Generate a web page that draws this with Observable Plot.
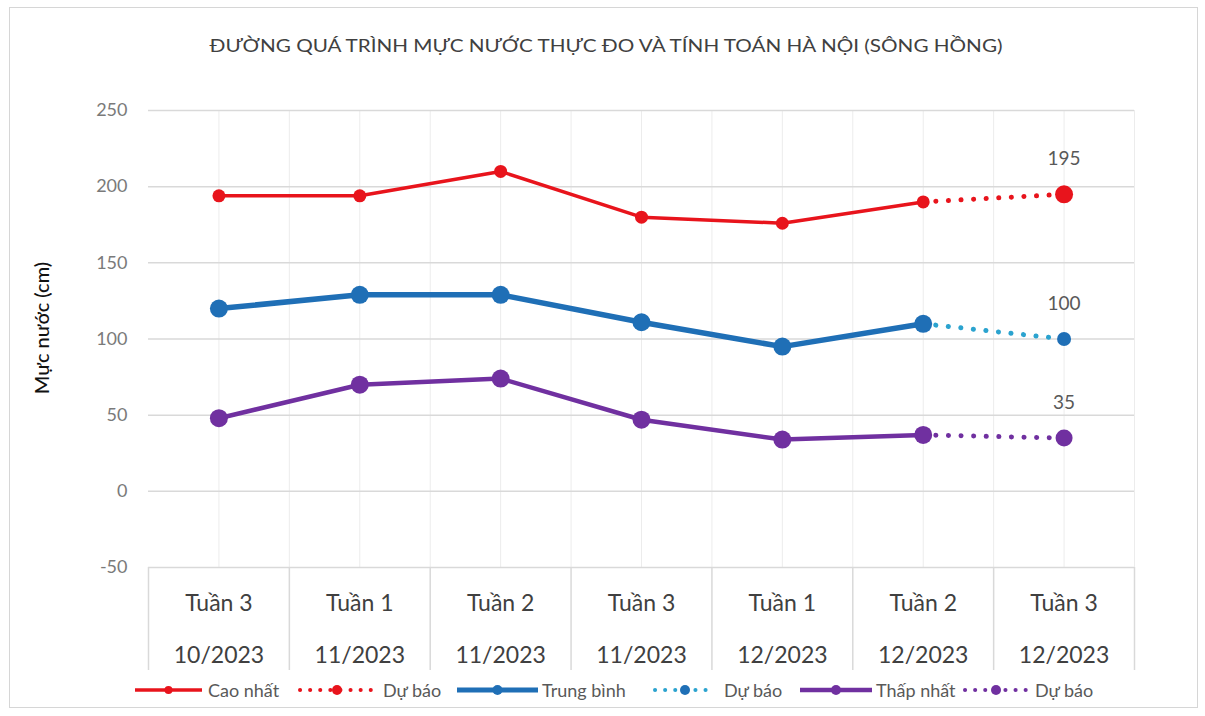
<!DOCTYPE html>
<html><head><meta charset="utf-8">
<script src="https://cdn.jsdelivr.net/npm/d3@7"></script>
<script src="https://cdn.jsdelivr.net/npm/@observablehq/plot@0.6"></script>
<style>
body{margin:0;background:#fff;font-family:Lato,"Open Sans",sans-serif;}
#frame{position:absolute;left:9px;top:7px;width:1189px;height:701px;border:1px solid #d6d6d6;box-sizing:border-box;}
#title{position:absolute;left:0;top:28px;}
#chart{position:absolute;left:0;top:80px;}
.lg{position:absolute;top:680px;height:20px;}
.lt{position:absolute;top:679px;font-size:18px;color:#595959;line-height:22px;white-space:nowrap;}
</style></head>
<body>
<div id="frame"></div>
<svg id="title" width="1205" height="34"><text x="606" y="24" text-anchor="middle" font-family="Lato, sans-serif" font-size="18" fill="#404040" textLength="793" lengthAdjust="spacingAndGlyphs">ĐƯỜNG QUÁ TRÌNH MỰC NƯỚC THỰC ĐO VÀ TÍNH TOÁN HÀ NỘI (SÔNG HỒNG)</text></svg>
<div id="chart"></div>
<div id="legend"></div>
<script>
// ---- data ----
const weeks  = ["Tuần 3","Tuần 1","Tuần 2","Tuần 3","Tuần 1","Tuần 2","Tuần 3"];
const months = ["10/2023","11/2023","11/2023","11/2023","12/2023","12/2023","12/2023"];
const caoNhat   = [194, 194, 210, 180, 176, 190];
const trungBinh = [120, 129, 129, 111, 95, 110];
const thapNhat  = [48, 70, 74, 47, 34, 37];
const caoNhatDuBao   = [190, 195];
const trungBinhDuBao = [110, 100];
const thapNhatDuBao  = [37, 35];
const yTicks = [-50, 0, 50, 100, 150, 200, 250];
const legendNames = ["Cao nhất","Dự báo","Trung bình","Dự báo","Thấp nhất","Dự báo"];

// ---- build tables ----
const obs = arr => arr.map((v, i) => ({i, v}));
const fc = (arr, start) => arr.map((v, k) => ({i: start + k, v}));
const cats = weeks.map((w, i) => ({i, w, m: months[i]}));

const RED = "#e8141c", BLUE = "#1f6fb6", BLUE_DOT = "#2ba3cf", PURPLE = "#7030a0";

const W = 1205, H = 600, mT = 30, mB = 113, mL = 148, mR = 71;
const unitPerPx = (yTicks[yTicks.length-1] - yTicks[0]) / (H - mT - mB);
const tableBottom = yTicks[0] - 103 * unitPerPx;
const halfSteps = d3.range(0, 2 * weeks.length).map(k => k / 2);      // centers + boundaries
const bounds = d3.range(0, weeks.length + 1).map(k => k - 0.5);

const dotted = {strokeDasharray: "0.1 12.5", strokeLinecap: "round", strokeWidth: 5};

const chart = Plot.plot({
  width: W, height: H,
  marginTop: mT, marginBottom: mB, marginLeft: mL, marginRight: mR,
  x: {type: "linear", domain: [-0.5, weeks.length - 0.5], axis: null},
  y: {domain: [yTicks[0], yTicks[yTicks.length-1]], axis: null},
  style: {fontFamily: "Lato, 'Open Sans', sans-serif", background: "transparent"},
  marks: [
    Plot.ruleX(halfSteps, {y1: yTicks[0], y2: yTicks[yTicks.length-1], stroke: "#ececec", strokeWidth: 1}),
    Plot.ruleY(yTicks, {stroke: "#d9d9d9", strokeWidth: 1.5}),
    Plot.ruleX(bounds, {y1: yTicks[0], y2: tableBottom, stroke: "#d9d9d9", strokeWidth: 1.5}),
    Plot.axisY(yTicks, {tickSize: 0, tickPadding: 21, fontSize: 18, color: "#7a7a7a", label: null, tickFormat: d => String(d)}),
    Plot.text(["Mực nước (cm)"], {frameAnchor: "left", textAnchor: "middle", dx: -106, dy: -11, rotate: -90, fontSize: 20, fill: "#111", fontWeight: 500}),
    Plot.text(cats, {x: "i", y: yTicks[0], text: "w", dy: 36, fontSize: 23, fill: "#404040"}),
    Plot.text(cats, {x: "i", y: yTicks[0], text: "m", dy: 88, fontSize: 23, fill: "#404040"}),
    // forecasts (dotted)
    Plot.line(fc(caoNhatDuBao, 5), {x: "i", y: "v", stroke: RED, ...dotted}),
    Plot.line(fc(trungBinhDuBao, 5), {x: "i", y: "v", stroke: BLUE_DOT, ...dotted}),
    Plot.line(fc(thapNhatDuBao, 5), {x: "i", y: "v", stroke: PURPLE, ...dotted}),
    // observed
    Plot.line(obs(caoNhat), {x: "i", y: "v", stroke: RED, strokeWidth: 3.5}),
    Plot.line(obs(trungBinh), {x: "i", y: "v", stroke: BLUE, strokeWidth: 5.5}),
    Plot.line(obs(thapNhat), {x: "i", y: "v", stroke: PURPLE, strokeWidth: 4.5}),
    Plot.dot(obs(caoNhat), {x: "i", y: "v", r: 6.5, fill: RED}),
    Plot.dot(obs(trungBinh), {x: "i", y: "v", r: 9, fill: BLUE}),
    Plot.dot(obs(thapNhat), {x: "i", y: "v", r: 9, fill: PURPLE}),
    Plot.dot(fc(caoNhatDuBao, 5).slice(1), {x: "i", y: "v", r: 9, fill: RED}),
    Plot.dot(fc(trungBinhDuBao, 5).slice(1), {x: "i", y: "v", r: 7, fill: BLUE}),
    Plot.dot(fc(thapNhatDuBao, 5).slice(1), {x: "i", y: "v", r: 8.5, fill: PURPLE}),
    // value labels
    Plot.text([...fc(caoNhatDuBao,5).slice(1), ...fc(trungBinhDuBao,5).slice(1), ...fc(thapNhatDuBao,5).slice(1)],
      {x: "i", y: "v", text: d => String(d.v), dy: -35, fontSize: 19, fill: "#595959"})
  ]
});
document.getElementById("chart").appendChild(chart);

// ---- legend ----
const legendItems = [
  {x1: 135, x2: 202, color: RED, dot: false, r: 4, sw: 3.5, tx: 208},
  {x1: 297, x2: 377, color: RED, dot: true, r: 5, sw: 4, tx: 383},
  {x1: 457, x2: 538, color: BLUE, dot: false, r: 5, sw: 5, tx: 542},
  {x1: 652, x2: 718, color: BLUE_DOT, mc: BLUE, dot: true, r: 5, sw: 4, tx: 724},
  {x1: 800, x2: 872, color: PURPLE, dot: false, r: 5, sw: 4.5, tx: 876},
  {x1: 962, x2: 1030, color: PURPLE, dot: true, r: 5, sw: 4, tx: 1035}
];
const lg = document.getElementById("legend");
legendItems.forEach((it, k) => {
  const w = it.x2 - it.x1;
  const s = document.createElementNS("http://www.w3.org/2000/svg", "svg");
  s.setAttribute("class", "lg"); s.setAttribute("width", w); s.setAttribute("height", 20);
  s.style.left = it.x1 + "px";
  const dash = it.dot ? 'stroke-dasharray="0.1 10" stroke-linecap="round"' : "";
  s.innerHTML = `<line x1="${it.dot?3:0}" x2="${w-(it.dot?3:0)}" y1="10" y2="10" stroke="${it.color}" stroke-width="${it.sw}" ${dash}/>` +
    `<circle cx="${w/2}" cy="10" r="${it.r}" fill="${it.mc || it.color}"/>`;
  lg.appendChild(s);
  const t = document.createElement("span");
  t.className = "lt"; t.style.left = it.tx + "px"; t.textContent = legendNames[k];
  lg.appendChild(t);
});
</script>
</body></html>
